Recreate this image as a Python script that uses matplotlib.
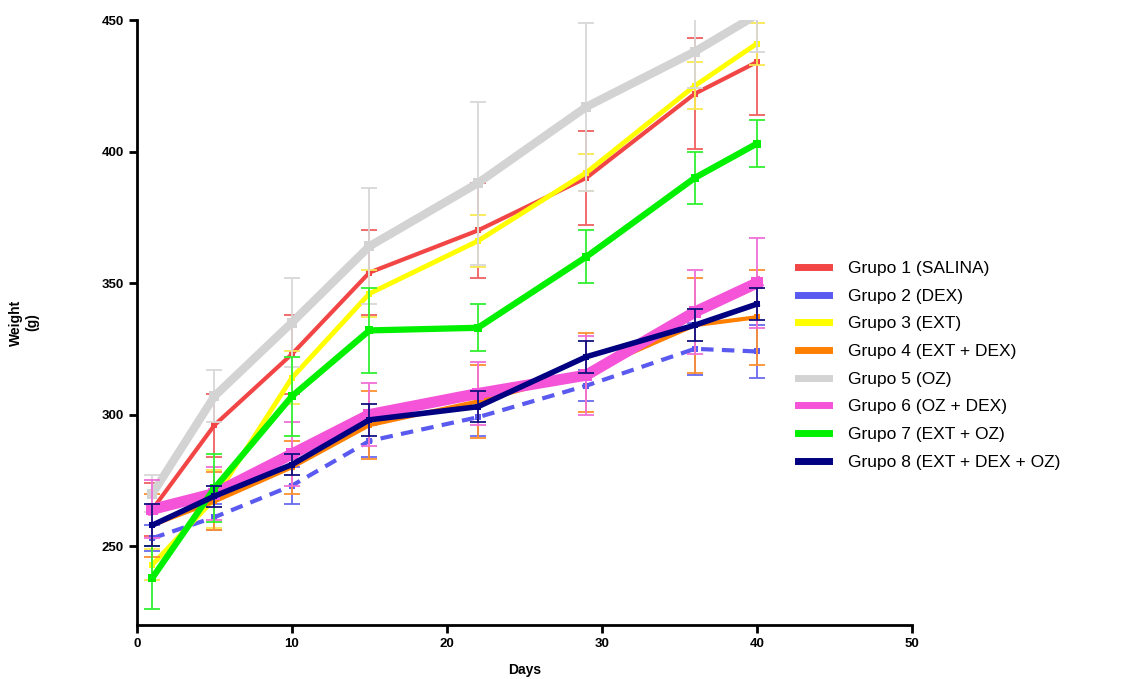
import matplotlib
matplotlib.use("Agg")
from matplotlib import pyplot as plt
from matplotlib.lines import Line2D

# days of measurement
days = [1, 5, 10, 15, 22, 29, 36, 40]

labels = ["Grupo 1 (SALINA)", "Grupo 2 (DEX)", "Grupo 3 (EXT)", "Grupo 4 (EXT + DEX)",
          "Grupo 5 (OZ)", "Grupo 6 (OZ + DEX)", "Grupo 7 (EXT + OZ)", "Grupo 8 (EXT + DEX + OZ)"]

# mean weights (g)
g1 = [264, 296, 323, 354, 370, 390, 422, 434]
g2 = [253, 261, 273, 290, 299, 311, 325, 324]
g3 = [243, 268, 314, 346, 366, 392, 425, 441]
g4 = [258, 267, 280, 296, 305, 316, 334, 337]
g5 = [270, 307, 335, 364, 388, 417, 438, 452]
g6 = [264, 270, 285, 300, 308, 315, 339, 350]
g7 = [238, 272, 307, 332, 333, 360, 390, 403]
g8 = [258, 269, 281, 298, 303, 322, 334, 342]

# error (+/-)
e1 = [10, 12, 15, 16, 18, 18, 21, 20]
e2 = [5, 5, 7, 6, 7, 6, 10, 10]
e3 = [6, 11, 10, 9, 10, 7, 9, 8]
e4 = [12, 11, 10, 13, 14, 15, 18, 18]
e5 = [7, 10, 17, 22, 31, 32, 14, 14]
e6 = [11, 10, 12, 12, 12, 15, 16, 17]
e7 = [12, 13, 15, 16, 9, 10, 10, 9]
e8 = [8, 4, 4, 6, 6, 6, 6, 6]

colors = ["#f24545", "#5a5af0", "#ffff00", "#ff8000", "#d3d3d3", "#f553d8", "#00f000", "#000080"]
ecolors = ["#f06060", "#6a6af0", "#f8e850", "#ff9030", "#d8d8d8", "#f070d8", "#30f030", "#101080"]
widths = [3, 3, 3.5, 3, 6, 8, 4.5, 4]
styles = ["-", "--", "-", "-", "-", "-", "-", "-"]

means = [g1, g2, g3, g4, g5, g6, g7, g8]
errs = [e1, e2, e3, e4, e5, e6, e7, e8]

fig = plt.figure(figsize=(11.36, 6.79), dpi=100)
ax = fig.add_axes([0.1206, 0.0795, 0.682, 0.891])

for m, e, c, ec, w, s, lab in zip(means, errs, colors, ecolors, widths, styles, labels):
    ax.errorbar(days, m, yerr=e, fmt="none", ecolor=ec, elinewidth=1.3, capsize=6, capthick=1.3)
    ax.plot(days, m, color=c, lw=w, ls=s, dashes=(3, 2) if s == "--" else (None, None),
            marker="s", markersize=w + 1, markeredgewidth=0, label=lab)

ax.set_xlim(0, 50)
ax.set_ylim(220, 450)
ax.set_xticks([0, 10, 20, 30, 40, 50])
ax.set_yticks([250, 300, 350, 400, 450])
for sp in ["top", "right"]:
    ax.spines[sp].set_visible(False)
for sp in ["left", "bottom"]:
    ax.spines[sp].set_linewidth(2)
ax.tick_params(width=2, length=6, labelsize=9.5)
for t in ax.get_xticklabels() + ax.get_yticklabels():
    t.set_fontweight("bold")
    t.set_fontfamily("Liberation Sans")

ax.set_xlabel("Days", fontsize=10, fontweight="bold", fontfamily="Liberation Sans", labelpad=9)
ax.set_ylabel("Weight\n(g)", fontsize=10, fontweight="bold", fontfamily="Liberation Sans", labelpad=45)

leg_h = [Line2D([0], [0], color=c, lw=5) for c in colors]
fig.legend(leg_h, labels, loc="center left", bbox_to_anchor=(0.689, 0.462), frameon=False,
           prop={"family": "Liberation Sans", "size": 12.5}, handlelength=1.75, labelspacing=0.72,
           handletextpad=1.1)

fig.savefig("out.png", dpi=100)
